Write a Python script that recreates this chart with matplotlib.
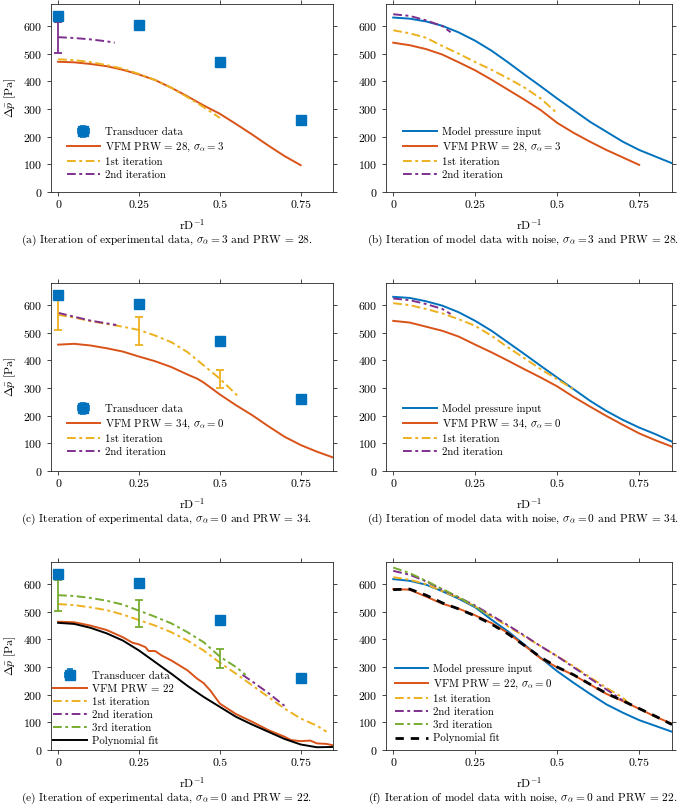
import matplotlib
matplotlib.use('Agg')
import matplotlib.pyplot as plt

plt.rcParams['font.family'] = 'cmr10'
plt.rcParams['mathtext.fontset'] = 'cm'
plt.rcParams['axes.formatter.use_mathtext'] = True
plt.rcParams['font.size'] = 8.5

blue = '#0072BD'
orange = '#D95319'
yellow = '#EDB120'
purple = '#7E2F8E'
green = '#77AC30'
dashdot = (0, (4.5, 1.8, 1.5, 1.8))

# transducer data (same in the experimental panels)
tr_x = [0, 0.25, 0.5, 0.75]
tr_y = [636, 605, 470, 260]

x_full = [0, 0.05, 0.1, 0.15, 0.2, 0.25, 0.3, 0.35, 0.4, 0.45, 0.5, 0.55, 0.6, 0.65, 0.7, 0.75, 0.8, 0.85]

# (a)
a_vfm_x = x_full[:16]
a_vfm_y = [471, 469, 463, 455, 442, 425, 405, 377, 346, 313, 283, 246, 208, 168, 130, 97]
a_it1_x = x_full[:11]
a_it1_y = [480, 477, 470, 459, 446, 427, 405, 377, 343, 307, 268]
a_it2_x = [0, 0.05, 0.1, 0.15, 0.175]
a_it2_y = [560, 557, 552, 545, 540]
a_err_x, a_err_y, a_err = [0], [558], [57]

# (b)
b_model_y = [631, 627, 617, 601, 577, 547, 511, 469, 425, 382, 338, 296, 254, 218, 182, 152, 128, 104]
b_vfm_x = x_full[:16]
b_vfm_y = [540, 531, 517, 497, 469, 440, 406, 370, 334, 296, 250, 214, 182, 152, 125, 98]
b_it1_x = [0, 0.05, 0.1, 0.15, 0.2, 0.25, 0.3, 0.35, 0.4, 0.45, 0.495]
b_it1_y = [585, 574, 558, 528, 500, 470, 442, 411, 378, 338, 290]
b_it2_x = [0, 0.05, 0.1, 0.15, 0.175]
b_it2_y = [643, 637, 621, 600, 578]

# (c)
c_vfm_x = [0, 0.05, 0.1, 0.15, 0.2, 0.25, 0.3, 0.35, 0.4, 0.43, 0.45, 0.5, 0.55, 0.6, 0.65, 0.7, 0.75, 0.8, 0.85]
c_vfm_y = [457, 460, 454, 444, 432, 414, 397, 376, 349, 334, 320, 277, 238, 202, 162, 124, 94, 70, 49]
c_it1_x = [0, 0.05, 0.1, 0.15, 0.2, 0.25, 0.3, 0.35, 0.4, 0.45, 0.5, 0.555]
c_it1_y = [565, 555, 542, 532, 522, 510, 490, 466, 430, 382, 334, 272]
c_it2_x = [0, 0.05, 0.1, 0.15, 0.18]
c_it2_y = [572, 558, 544, 534, 528]
c_err_x, c_err_y, c_err = [0, 0.25, 0.5], [565, 507, 333], [55, 51, 33]

# (d)
d_model_y = [630, 626, 614, 598, 574, 543, 507, 465, 423, 380, 338, 296, 254, 217, 185, 157, 133, 106]
d_vfm_y = [543, 537, 522, 507, 486, 457, 429, 399, 368, 338, 306, 268, 233, 199, 167, 136, 111, 88]
d_it1_x = x_full[:12]
d_it1_y = [607, 600, 586, 570, 549, 525, 489, 447, 408, 368, 332, 295]
d_it2_x = [0, 0.05, 0.1, 0.15, 0.175]
d_it2_y = [624, 618, 604, 586, 568]

# (e)
e_vfm_x = [0, 0.05, 0.1, 0.15, 0.2, 0.23, 0.25, 0.27, 0.28, 0.3, 0.32, 0.35, 0.4, 0.43, 0.45, 0.47,
           0.5, 0.55, 0.6, 0.65, 0.7, 0.72, 0.75, 0.78, 0.8, 0.83, 0.85]
e_vfm_y = [464, 462, 450, 434, 408, 388, 382, 372, 358, 358, 342, 324, 288, 258, 242, 216,
           168, 130, 102, 72, 48, 36, 32, 34, 24, 22, 17]
e_it1_x = x_full[:17] + [0.83]
e_it1_y = [528, 524, 516, 506, 490, 470, 450, 426, 396, 360, 316, 276, 234, 192, 150, 114, 88, 66]
e_it2_x = [0.57, 0.6, 0.65, 0.7]
e_it2_y = [272, 248, 206, 160]
e_it3_x = x_full[:12] + [0.58]
e_it3_y = [560, 557, 550, 540, 526, 504, 482, 458, 426, 390, 338, 300, 272]
e_poly_y = [460, 456, 442, 422, 396, 360, 318, 276, 232, 192, 156, 120, 92, 66, 40, 20, 10, 11]
e_err_x, e_err_y, e_err = [0, 0.25, 0.5], [559, 493, 330], [55, 49, 34]

# (f)
f_model_y = [618, 612, 598, 574, 547, 516, 471, 429, 381, 333, 285, 243, 203, 165, 135, 108, 87, 66]
f_vfm_y = [582, 580, 555, 529, 511, 487, 459, 423, 378, 331, 299, 271, 237, 203, 177, 149, 120, 95]
f_it1_x = x_full[:15] + [0.72]
f_it1_y = [625, 616, 600, 574, 550, 519, 483, 447, 411, 375, 339, 303, 263, 225, 189, 167]
f_it2_x = x_full[:15]
f_it2_y = [648, 634, 610, 580, 552, 522, 487, 451, 414, 375, 339, 299, 259, 219, 179]
f_it3_x = x_full[:7]
f_it3_y = [660, 640, 612, 582, 552, 519, 480]
f_poly_y = [580, 582, 560, 532, 510, 485, 455, 420, 378, 335, 300, 272, 238, 205, 178, 150, 122, 92]

captions = [
    r'(a) Iteration of experimental data, $\sigma_\alpha = 3$ and PRW = 28.',
    r'(b) Iteration of model data with noise, $\sigma_\alpha = 3$ and PRW = 28.',
    r'(c) Iteration of experimental data, $\sigma_\alpha = 0$ and PRW = 34.',
    r'(d) Iteration of model data with noise, $\sigma_\alpha = 0$ and PRW = 34.',
    r'(e) Iteration of experimental data, $\sigma_\alpha = 0$ and PRW = 22.',
    r'(f) Iteration of model data with noise, $\sigma_\alpha = 0$ and PRW = 22.',
]

W, H = 685, 811
fig = plt.figure(figsize=(W / 100, H / 100), dpi=100)
fs = 8.5
lfs = 7.8


def make_ax(left, top, right, bottom):
    ax = fig.add_axes([left / W, 1 - bottom / H, (right - left) / W, (bottom - top) / H])
    ax.set_xlim(-0.022, 0.85)
    ax.set_ylim(0, 680)
    ax.set_xticks([0, 0.25, 0.5, 0.75])
    ax.set_xticklabels(['0', '0.25', '0.5', '0.75'])
    ax.set_yticks(range(0, 700, 100))
    ax.tick_params(direction='out', top=True, right=True, length=3, width=0.6,
                   color='#262626', labelsize=fs, pad=3)
    for s in ax.spines.values():
        s.set_linewidth(0.6)
        s.set_color('#262626')
    ax.set_xlabel(r'rD$^{-1}$', fontsize=fs, labelpad=5)
    return ax


def transducer(ax):
    ax.errorbar(tr_x, tr_y, xerr=0.008, yerr=9, fmt='s', color=blue, ms=6.5,
                elinewidth=1.2, capsize=2, capthick=1.2, label='Transducer data')


def errbars(ax, x, y, e, c):
    ax.errorbar(x, y, yerr=e, fmt='none', ecolor=c, elinewidth=1.3, capsize=3, capthick=1.3)


def legend(ax, x0, y0, first_last=False):
    h, l = ax.get_legend_handles_labels()
    if first_last:
        h = h[-1:] + h[:-1]
        l = l[-1:] + l[:-1]
    ax.legend(h, l, loc='lower left', bbox_to_anchor=(x0, y0), frameon=False, fontsize=lfs,
              handlelength=3.1, handletextpad=0.45, labelspacing=0.32, borderaxespad=0,
              borderpad=0)


lw = 1.4
rows = [(4, 192), (283, 471), (562, 750)]
cols = [(51, 333), (386, 672)]
cap_y = [240, 519, 798]
cap_x = [167, 523]

# (a)
ax = make_ax(cols[0][0], rows[0][0], cols[0][1], rows[0][1])
transducer(ax)
ax.plot(a_vfm_x, a_vfm_y, color=orange, lw=lw, label=r'VFM PRW = 28, $\sigma_\alpha = 3$')
ax.plot(a_it1_x, a_it1_y, color=yellow, lw=lw, ls=dashdot, label='1st iteration')
ax.plot(a_it2_x, a_it2_y, color=purple, lw=lw, ls=dashdot, label='2nd iteration')
errbars(ax, a_err_x, a_err_y, a_err, purple)
ax.set_ylabel(r'$\Delta\bar{p}$ [Pa]', fontsize=fs)
legend(ax, 0.055, 0.065, True)

# (b)
ax = make_ax(cols[1][0], rows[0][0], cols[1][1], rows[0][1])
ax.plot(x_full, b_model_y, color=blue, lw=lw, label='Model pressure input')
ax.plot(b_vfm_x, b_vfm_y, color=orange, lw=lw, label=r'VFM PRW = 28, $\sigma_\alpha = 3$')
ax.plot(b_it1_x, b_it1_y, color=yellow, lw=lw, ls=dashdot, label='1st iteration')
ax.plot(b_it2_x, b_it2_y, color=purple, lw=lw, ls=dashdot, label='2nd iteration')
legend(ax, 0.06, 0.065)

# (c)
ax = make_ax(cols[0][0], rows[1][0], cols[0][1], rows[1][1])
transducer(ax)
ax.plot(c_vfm_x, c_vfm_y, color=orange, lw=lw, label=r'VFM PRW = 34, $\sigma_\alpha = 0$')
ax.plot(c_it1_x, c_it1_y, color=yellow, lw=lw, ls=dashdot, label='1st iteration')
ax.plot(c_it2_x, c_it2_y, color=purple, lw=lw, ls=dashdot, label='2nd iteration')
errbars(ax, c_err_x, c_err_y, c_err, yellow)
ax.set_ylabel(r'$\Delta\bar{p}$ [Pa]', fontsize=fs)
legend(ax, 0.055, 0.075, True)

# (d)
ax = make_ax(cols[1][0], rows[1][0], cols[1][1], rows[1][1])
ax.plot(x_full, d_model_y, color=blue, lw=lw, label='Model pressure input')
ax.plot(x_full, d_vfm_y, color=orange, lw=lw, label=r'VFM PRW = 34, $\sigma_\alpha = 0$')
ax.plot(d_it1_x, d_it1_y, color=yellow, lw=lw, ls=dashdot, label='1st iteration')
ax.plot(d_it2_x, d_it2_y, color=purple, lw=lw, ls=dashdot, label='2nd iteration')
legend(ax, 0.06, 0.075)

# (e)
ax = make_ax(cols[0][0], rows[2][0], cols[0][1], rows[2][1])
transducer(ax)
ax.plot(e_vfm_x, e_vfm_y, color=orange, lw=lw, label='VFM PRW = 22')
ax.plot(e_it1_x, e_it1_y, color=yellow, lw=lw, ls=dashdot, label='1st iteration')
ax.plot(e_it2_x, e_it2_y, color=purple, lw=lw, ls=dashdot, label='2nd iteration')
ax.plot(e_it3_x, e_it3_y, color=green, lw=lw, ls=dashdot, label='3rd iteration')
ax.plot(x_full, e_poly_y, color='black', lw=lw, label='Polynomial fit')
errbars(ax, e_err_x, e_err_y, e_err, green)
ax.set_ylabel(r'$\Delta\bar{p}$ [Pa]', fontsize=fs)
legend(ax, 0.008, 0.02, True)

# (f)
ax = make_ax(cols[1][0], rows[2][0], cols[1][1], rows[2][1])
ax.plot(x_full, f_model_y, color=blue, lw=lw, label='Model pressure input')
ax.plot(x_full, f_vfm_y, color=orange, lw=lw, label=r'VFM PRW = 22, $\sigma_\alpha = 0$')
ax.plot(f_it1_x, f_it1_y, color=yellow, lw=lw, ls=dashdot, label='1st iteration')
ax.plot(f_it2_x, f_it2_y, color=purple, lw=lw, ls=dashdot, label='2nd iteration')
ax.plot(f_it3_x, f_it3_y, color=green, lw=lw, ls=dashdot, label='3rd iteration')
ax.plot(x_full, f_poly_y, color='black', lw=2, ls=(0, (3, 2.5)), label='Polynomial fit')
legend(ax, 0.03, 0.035)

for i, c in enumerate(captions):
    fig.text(cap_x[i % 2] / W, 1 - cap_y[i // 2] / H, c, ha='center', va='center', fontsize=8.2)

fig.savefig('out.png', dpi=100)
